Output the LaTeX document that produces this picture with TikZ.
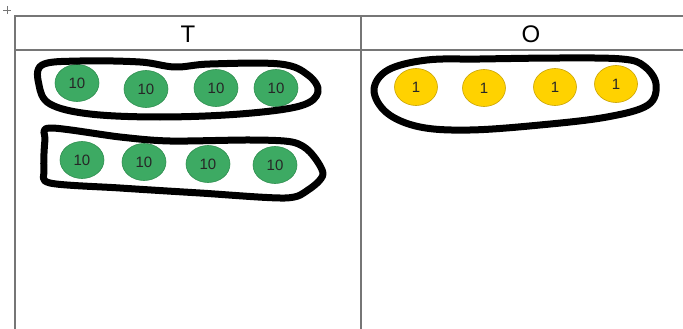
\documentclass[tikz,border=0pt]{standalone}
\usepackage{fontspec}
\setmainfont{Liberation Sans}
\usepackage{xcolor}
\usepackage{tikz}
\usetikzlibrary{positioning, shapes.geometric}

\definecolor{tengreen}{HTML}{3DAA63}
\definecolor{tenedge}{HTML}{2F8F50}
\definecolor{oneyellow}{HTML}{FFD200}
\definecolor{oneedge}{HTML}{C9A200}
\definecolor{gridgray}{HTML}{767676}

\begin{document}
\begin{tikzpicture}[x=1pt, y=-1pt,
  tencoin/.style={ellipse, minimum width=44pt, minimum height=37pt, inner sep=0pt,
    fill=tengreen, draw=tenedge, line width=0.6pt, text=black!85,
    font=\fontsize{15}{15}\selectfont},
  onecoin/.style={ellipse, minimum width=43pt, minimum height=37pt, inner sep=0pt,
    fill=oneyellow, draw=oneedge, line width=0.6pt, text=black!85,
    font=\fontsize{15}{15}\selectfont},
  header/.style={font=\fontsize{24}{24}\selectfont},
  grid/.style={draw=gridgray, line width=1.1pt},
  loop/.style={draw=black, line width=7pt, line join=round}
]
  \useasboundingbox (0,0) rectangle (683,329);

  % table
  \draw[grid] (683,16) -- (15,16) -- (15,329);
  \draw[grid] (15,50) -- (683,50);
  \draw[grid] (361,16) -- (361,329);
  \draw[gridgray, line width=0.8pt] (3,10) -- (11,10) (7,6) -- (7,14);

  \node[header] (tens) at (188,34) {T};
  \node[header] (ones) at (531,34) {O};

  % tens, first row
  \node[tencoin] (ta) at (77,83) {10};
  \node[tencoin] (tb) at (146,89) {10};
  \node[tencoin] (tc) at (216,88) {10};
  \node[tencoin] (td) at (276,88) {10};

  % tens, second row
  \node[tencoin] (te) at (82,160) {10};
  \node[tencoin] (tf) at (144,162) {10};
  \node[tencoin] (tg) at (208,164) {10};
  \node[tencoin] (th) at (275,165) {10};

  % ones
  \node[onecoin] (oa) at (416,87) {1};
  \node[onecoin] (ob) at (484,88) {1};
  \node[onecoin] (oc) at (555,87) {1};
  \node[onecoin] (od) at (616,84) {1};

  % hand drawn groups
  \draw[loop] plot[smooth cycle, tension=0.6] coordinates {
    (42,65) (80,61) (140,62) (175,67) (210,64) (280,64) (308,75) (318,92)
    (300,106) (240,114) (160,117) (90,114) (50,104) (39,85)};
  \draw[loop] plot[smooth cycle, tension=0.5] coordinates {
    (50,128) (120,137) (170,141) (250,140) (292,142) (310,152) (323,174)
    (308,190) (285,198) (200,193) (120,188) (50,183) (44,170) (45,140)};
  \draw[loop] plot[smooth cycle, tension=0.6] coordinates {
    (374,90) (388,70) (427,60) (480,59) (560,58) (622,59) (644,66) (656,84)
    (648,105) (607,117) (540,125) (470,130) (420,127) (387,113)};
\end{tikzpicture}
\end{document}
